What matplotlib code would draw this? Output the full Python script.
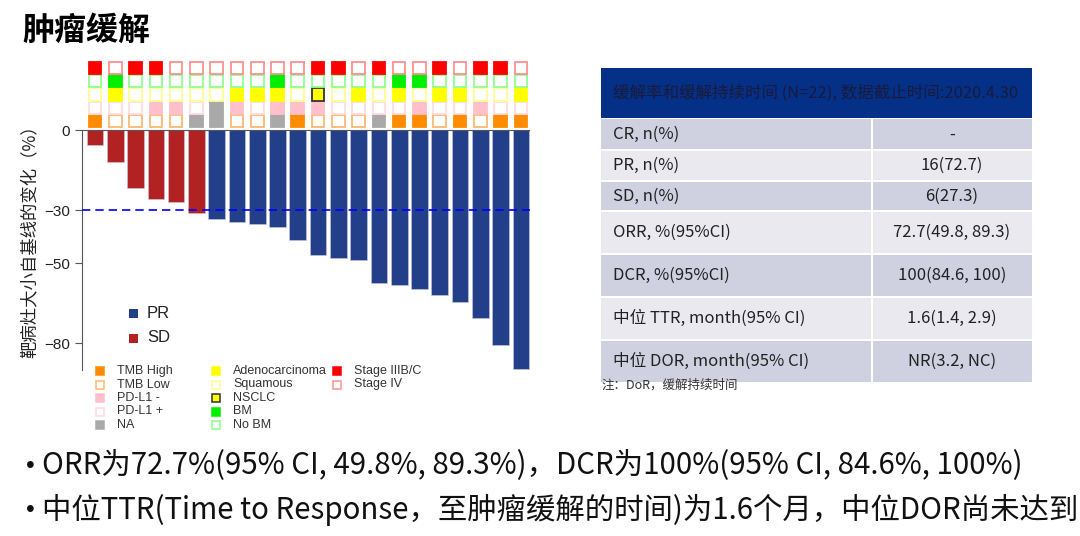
import matplotlib.pyplot as plt
from matplotlib.patches import Rectangle

CJK = ['Noto Sans CJK SC', 'DejaVu Sans']
ARIAL = ['Liberation Sans', 'Noto Sans CJK SC', 'DejaVu Sans']

# best % change in target lesions, 22 patients sorted
change = [-5.5, -12, -21.7, -26, -26.9, -31, -33.4, -34.5, -35.4, -36.2, -41.2,
          -46.7, -48.1, -48.7, -57.2, -58, -59.5, -62, -64.4, -70.6, -80.5, -89.7]
response = ['SD'] * 6 + ['PR'] * 16

# annotation rows (one code per patient)
tmb = ['H', 'L', 'L', 'L', 'L', 'NA', 'NA', 'L', 'L', 'NA', 'H',
       'L', 'L', 'L', 'NA', 'H', 'H', 'L', 'H', 'L', 'H', 'H']
pdl1 = ['+', '+', '+', '-', '-', '+', 'NA', '-', '+', '-', '-',
        '-', '+', '+', '+', '+', '-', '+', '+', '-', '+', '+']
histology = ['Sq', 'Ad', 'Sq', 'Sq', 'Sq', 'Sq', 'Sq', 'Ad', 'Ad', 'Ad', 'Sq',
             'NS', 'Sq', 'Ad', 'Sq', 'Ad', 'Sq', 'Ad', 'Ad', 'Sq', 'Sq', 'Ad']
bm = ['No', 'BM', 'No', 'No', 'No', 'No', 'No', 'No', 'No', 'BM', 'No',
      'No', 'No', 'No', 'No', 'BM', 'BM', 'No', 'No', 'No', 'No', 'No']
stage = ['III', 'IV', 'III', 'III', 'IV', 'IV', 'IV', 'IV', 'IV', 'IV', 'IV',
         'III', 'III', 'IV', 'III', 'IV', 'IV', 'III', 'IV', 'III', 'III', 'IV']

bar_colors = {'PR': '#233f8a', 'SD': '#b22222'}

# (face, edge) for every annotation code
styles = {
    'tmb': {'H': ('#ff8c00', '#ff8c00'), 'L': ('white', '#ffb870'), 'NA': ('#a9a9a9', '#a9a9a9')},
    'pdl1': {'-': ('#ffc0cb', '#ffc0cb'), '+': ('white', '#ffdbe2'), 'NA': ('#a9a9a9', '#a9a9a9')},
    'hist': {'Ad': ('#ffff00', '#ffff00'), 'Sq': ('white', '#ffff90'), 'NS': ('#ffff00', '#333333')},
    'bm': {'BM': ('#00ee00', '#00ee00'), 'No': ('white', '#90ff90')},
    'stage': {'III': ('#ff0000', '#ff0000'), 'IV': ('white', '#ff9090')},
}
rows = [('tmb', tmb), ('pdl1', pdl1), ('hist', histology), ('bm', bm), ('stage', stage)]

legend_cols = [
    [('TMB High', styles['tmb']['H']), ('TMB Low', styles['tmb']['L']),
     ('PD-L1 -', styles['pdl1']['-']), ('PD-L1 +', styles['pdl1']['+']),
     ('NA', styles['tmb']['NA'])],
    [('Adenocarcinoma', styles['hist']['Ad']), ('Squamous', styles['hist']['Sq']),
     ('NSCLC', styles['hist']['NS']), ('BM', styles['bm']['BM']),
     ('No BM', styles['bm']['No'])],
    [('Stage IIIB/C', styles['stage']['III']), ('Stage IV', styles['stage']['IV'])],
]

table_title = '缓解率和缓解持续时间 (N=22), 数据截止时间:2020.4.30'
table_labels = ['CR, n(%)', 'PR, n(%)', 'SD, n(%)', 'ORR, %(95%CI)', 'DCR, %(95%CI)',
                '中位 TTR, month(95% CI)', '中位 DOR, month(95% CI)']
table_values = ['-', '16(72.7)', '6(27.3)', '72.7(49.8, 89.3)', '100(84.6, 100)',
                '1.6(1.4, 2.9)', 'NR(3.2, NC)']
row_edges = [118, 150, 181, 211, 254, 297, 340, 383]

bullets = ['ORR为72.7%(95% CI, 49.8%, 89.3%)，DCR为100%(95% CI, 84.6%, 100%)',
           '中位TTR(Time to Response，至肿瘤缓解的时间)为1.6个月，中位DOR尚未达到']

fig = plt.figure(figsize=(10.8, 5.36), dpi=100)

# overlay in pixel coordinates for slide text, table and legend
ov = fig.add_axes([0, 0, 1, 1])
ov.set_xlim(0, 1080)
ov.set_ylim(536, 0)
ov.axis('off')

ov.text(22, 31, '肿瘤缓解', fontsize=23, fontweight='bold', family=CJK, va='center', ha='left')

# waterfall
ax = fig.add_axes([82 / 1080, 166 / 536, 448 / 1080, 309.3 / 536])
ax.patch.set_visible(False)
x = list(range(len(change)))
ax.bar(x, change, width=0.82, color=[bar_colors[r] for r in response],
       edgecolor='#c8cce0', linewidth=0.4, zorder=2)
ax.axhline(0, color='#555555', lw=0.8, zorder=3)
ax.axhline(-30, color='#0000ff', lw=1.2, ls=(0, (5, 3)), zorder=3)
ax.set_xlim(-0.64, 21.45)
ax.set_ylim(-90, 26)
for s in ['top', 'right', 'bottom']:
    ax.spines[s].set_visible(False)
ax.spines['left'].set_bounds(-90, 0)
ax.spines['left'].set_color('#555555')
ax.set_xticks([])
ax.set_yticks([0, -30, -50, -80])
ax.tick_params(axis='y', labelsize=11, length=5, color='#555555', labelcolor='#222222')
for lab in ax.get_yticklabels():
    lab.set_family(ARIAL)

# annotation squares above the bars
sq_w, sq_h = 0.62, 4.6
for k, (name, codes) in enumerate(rows):
    yc = 3.4 + 4.95 * k
    for i, c in enumerate(codes):
        face, edge = styles[name][c]
        ax.add_patch(Rectangle((i - sq_w / 2, yc - sq_h / 2), sq_w, sq_h, facecolor=face,
                               edgecolor=edge, lw=1.3, clip_on=False, zorder=4))

# y label, left of the tick labels
ov.text(30, 237, '靶病灶大小自基线的变化（%）', fontsize=12.5, family=CJK, rotation=90,
        va='center', ha='center', color='#222222')

# PR / SD legend
for ry, r in zip([313, 338], ['PR', 'SD']):
    ov.add_patch(Rectangle((129, ry - 4.5), 9, 9, facecolor=bar_colors[r], edgecolor='none'))
    ov.text(147, ry, r, fontsize=12, family=ARIAL, va='center', ha='left', color='#222222')

# annotation legend below the axes
col_x = [100, 216, 337]
row_y = [371, 384.5, 398, 411.5, 425]
for cx, items in zip(col_x, legend_cols):
    for ry, (label, (face, edge)) in zip(row_y, items):
        ov.add_patch(Rectangle((cx - 4, ry - 4), 8, 8, facecolor=face, edgecolor=edge, lw=1.1))
        ov.text(cx + 17, ry, label, fontsize=9, family=ARIAL, va='center', ha='left', color='#333333')

# response table
tx0, tx1, tdiv = 601, 1032, 872
ov.add_patch(Rectangle((tx0, 68), tx1 - tx0, 50, facecolor='#053088', edgecolor='none'))
ov.text(613, 93, table_title, fontsize=11.9, family=CJK, va='center', ha='left', color='#1a1a3a')
for j, (lab, val) in enumerate(zip(table_labels, table_values)):
    y0, y1 = row_edges[j], row_edges[j + 1]
    fill = '#cfd0e0' if j % 2 == 0 else '#e9e9ef'
    ov.add_patch(Rectangle((tx0, y0 + 1), tdiv - tx0 - 1, y1 - y0 - 2, facecolor=fill, edgecolor='none'))
    ov.add_patch(Rectangle((tdiv + 1, y0 + 1), tx1 - tdiv - 1, y1 - y0 - 2, facecolor=fill, edgecolor='none'))
    ym = (y0 + y1) / 2
    ov.text(613, ym, lab, fontsize=12, family=CJK, va='center', ha='left', color='#222222')
    ov.text(952, ym, val, fontsize=12, family=CJK, va='center', ha='center', color='#222222')
ov.text(601, 385, '注：DoR，缓解持续时间', fontsize=9, family=CJK, va='center', ha='left', color='#333333')

# bullet text
for by, line in zip([466, 510], bullets):
    ov.text(30, by, '•', fontsize=18, family=ARIAL, va='center', ha='center', color='#111111')
    ov.text(42, by, line, fontsize=21.2, family=CJK, va='center', ha='left', color='#111111')

fig.savefig('out.png', dpi=100)
